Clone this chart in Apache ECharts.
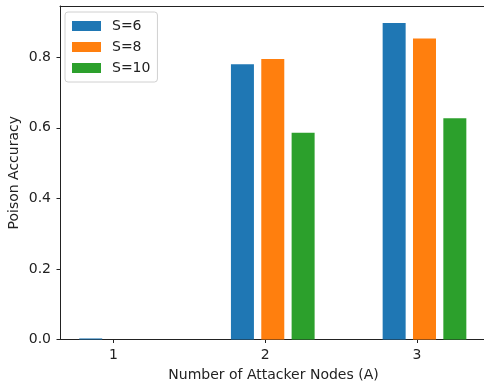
<!DOCTYPE html>
<html>
<head>
<meta charset="utf-8">
<script src="https://cdn.jsdelivr.net/npm/echarts@6/dist/echarts.min.js"></script>
<style>
  html, body { margin: 0; padding: 0; background: #fff; }
  #chart { width: 484px; height: 383px; }
</style>
</head>
<body>
<div id="chart"></div>
<script>
// Number of attacker nodes on the x axis
const attackers = [1, 2, 3];
// Poison accuracy for each committee size S
const seriesNames = ['S=6', 'S=8', 'S=10'];
const accS6 = [0.003, 0.780, 0.897];
const accS8 = [0.0, 0.795, 0.853];
const accS10 = [0.0, 0.586, 0.627];
const yTicks = [0.0, 0.2, 0.4, 0.6, 0.8];

const colors = ['#1f77b4', '#ff7f0e', '#2ca02c'];
const allValues = [accS6, accS8, accS10];
// bars sit at A + offset, matplotlib-style shifted grouping
const barStep = 0.2;
const barShift = -0.15;

const font = 'DejaVu Sans';
const xMin = 0.6475, xMax = 3.462;
const chart = echarts.init(document.getElementById('chart'), null, { renderer: 'canvas' });

const series = allValues.map((vals, i) => ({
  name: seriesNames[i],
  type: 'bar',
  barWidth: 23,
  barGap: '-100%',
  itemStyle: { color: colors[i] },
  data: attackers.map((a, j) => [a + barShift + i * barStep, vals[j]])
}));

chart.setOption({
  animation: false,
  backgroundColor: '#fff',
  grid: {
    left: 60, right: -3, top: 6, bottom: 43.5,
    outerBoundsMode: 'none',
    containLabel: false,
    show: false
  },
  legend: {
    orient: 'vertical',
    left: 65, top: 12,
    padding: [6, 7, 6, 7],
    itemWidth: 29, itemHeight: 10, itemGap: 5,
    backgroundColor: 'rgba(255,255,255,0.8)',
    borderColor: '#d0d0d0', borderWidth: 1, borderRadius: 3,
    textStyle: { fontFamily: font, fontSize: 14, color: '#222', lineHeight: 16, padding: [0, 0, 0, 6] },
    data: seriesNames.map(n => ({ name: n, icon: 'rect' }))
  },
  xAxis: [{
    type: 'value',
    min: xMin, max: xMax,
    interval: 1,
    name: 'Number of Attacker Nodes (A)',
    nameLocation: 'middle',
    nameGap: 29,
    nameMoveOverlap: false,
    nameTextStyle: { fontFamily: font, fontSize: 14, color: '#222' },
    axisLine: { show: true, lineStyle: { color: '#222', width: 1 } },
    axisTick: {
      show: true, length: 3.5, lineStyle: { color: '#222' },
      customValues: attackers
    },
    axisLabel: {
      fontFamily: font, fontSize: 14, color: '#222', margin: 9,
      customValues: attackers,
      formatter: v => String(v)
    },
    splitLine: { show: false }
  }, {
    // top frame line
    type: 'value',
    position: 'top',
    min: xMin, max: xMax,
    axisLine: { show: true, lineStyle: { color: '#222', width: 1 } },
    axisTick: { show: false },
    axisLabel: { show: false },
    splitLine: { show: false }
  }],
  yAxis: {
    type: 'value',
    min: 0, max: 0.945,
    interval: 0.2,
    name: 'Poison Accuracy',
    nameLocation: 'middle',
    nameGap: 39,
    nameMoveOverlap: false,
    nameTextStyle: { fontFamily: font, fontSize: 14, color: '#222' },
    axisLine: { show: true, lineStyle: { color: '#222', width: 1 } },
    axisTick: { show: true, length: 3.5, lineStyle: { color: '#222' }, customValues: yTicks },
    axisLabel: {
      fontFamily: font, fontSize: 14, color: '#222', margin: 9,
      customValues: yTicks,
      formatter: v => v.toFixed(1)
    },
    splitLine: { show: false }
  },
  series: series
});
</script>
</body>
</html>
